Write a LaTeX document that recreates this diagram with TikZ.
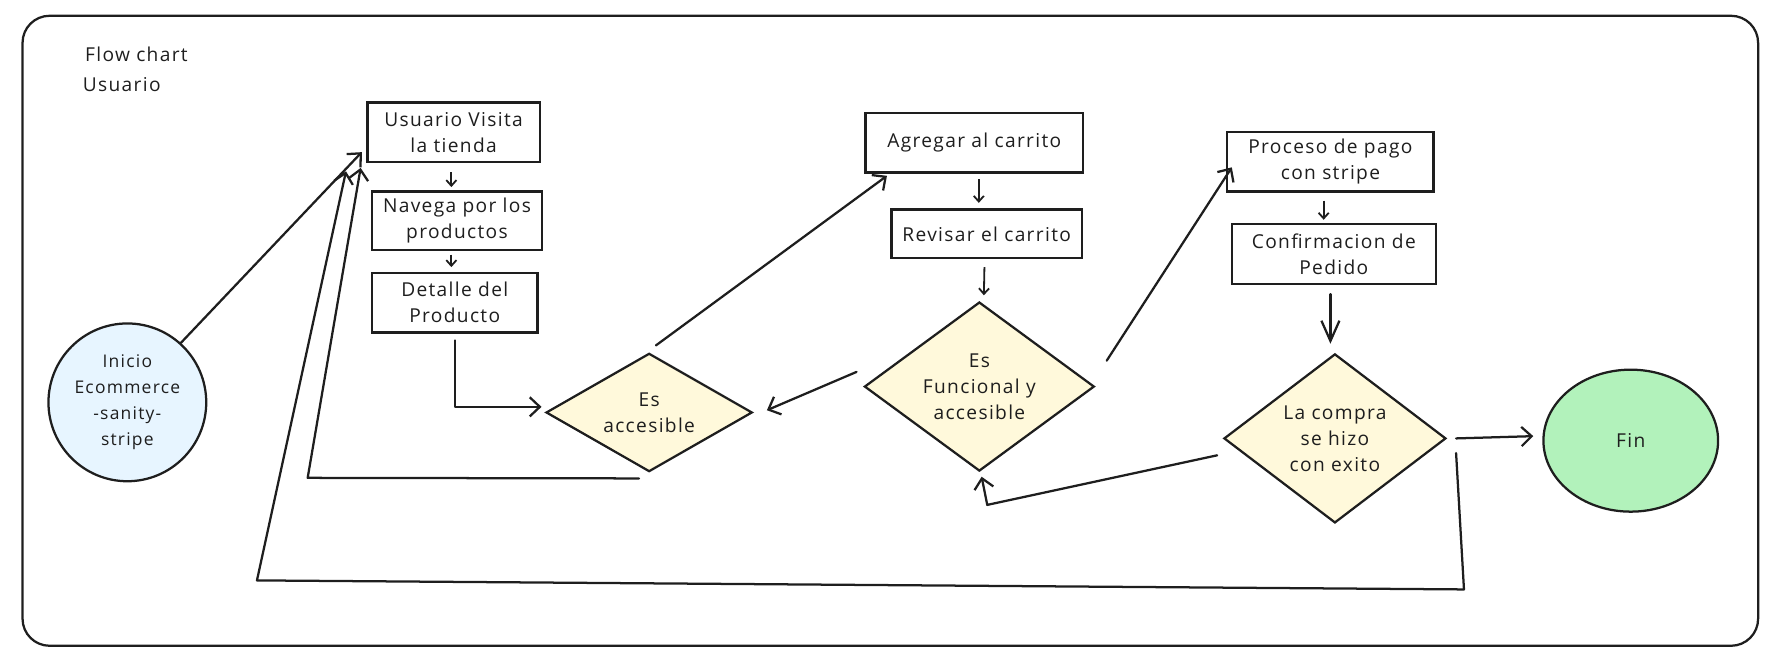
\documentclass[tikz,border=0pt]{standalone}
\usepackage{fontspec}
\setmainfont{Open Sans}[LetterSpace=7]
\usetikzlibrary{shapes.geometric,arrows.meta,calc}
\definecolor{ink}{HTML}{1E1E1E}
\definecolor{yel}{HTML}{FFF9DB}
\definecolor{blu}{HTML}{E7F5FF}
\definecolor{grn}{HTML}{B2F2BB}
\tikzset{
  stepbox/.style={draw=ink,line width=2pt,fill=white,inner sep=0pt,align=center,font=\fontsize{17}{23}\selectfont,text=ink},
  dia/.style={diamond,draw=ink,line width=2pt,fill=yel,inner sep=0pt},
  dtxt/.style={align=center,font=\fontsize{17}{23}\selectfont,text=ink},
  arr/.style={draw=ink,line width=2pt,-{Straight Barb[length=9pt,width=17pt,line width=2pt]},line cap=round,line join=round},
  bigarr/.style={draw=ink,line width=2pt,-{Straight Barb[length=18pt,width=16pt,line width=2pt]},line cap=round,line join=round},
  sarr/.style={draw=ink,line width=1.6pt,-{Straight Barb[length=5pt,width=9pt,line width=1.6pt]}},
}
\begin{document}
\begin{tikzpicture}[x=1pt,y=-1pt]
\useasboundingbox (0,0) rectangle (1567,584);
\node[draw=ink,line width=2pt,rounded corners=24pt,minimum width=1540pt,minimum height=559pt,inner sep=0pt] (frame) at (790,293.5) {};
\node[anchor=west,font=\fontsize{17}{18}\selectfont,text=ink] (t1) at (72,48) {Flow chart};
\node[anchor=west,font=\fontsize{17}{18}\selectfont,text=ink] (t2) at (70,75) {Usuario};

\node[circle,draw=ink,line width=2pt,fill=blu,minimum size=140pt,inner sep=0pt,align=center,font=\fontsize{15.5}{23}\selectfont,text=ink] (ini) at (113,357) {Inicio\\Ecommerce\\-sanity-\\stripe};

\node[stepbox,minimum width=153pt,minimum height=53pt] (b1) at (402.5,117.5) {Usuario Visita\\la tienda};
\node[stepbox,minimum width=151pt,minimum height=52pt] (b2) at (405.5,196) {Navega por los\\productos};
\node[stepbox,minimum width=147pt,minimum height=53pt] (b3) at (403.5,268.5) {Detalle del\\Producto};

\node[dia,minimum width=183pt,minimum height=105pt] (d1) at (576,366) {};
\node[dtxt] at (d1) {Es\\accesible};

\node[stepbox,minimum width=193pt,minimum height=53pt] (b4) at (864.5,126.5) {Agregar al carrito};
\node[stepbox,minimum width=169pt,minimum height=43pt] (b5) at (875.5,207.5) {Revisar el carrito};

\node[dia,minimum width=204pt,minimum height=150pt] (d2) at (869,343) {};
\node[dtxt] at (d2) {Es\\Funcional y\\accesible};

\node[stepbox,minimum width=183pt,minimum height=53pt] (b6) at (1180.5,143.5) {Proceso de pago\\con stripe};
\node[stepbox,minimum width=181pt,minimum height=53pt] (b7) at (1183.5,225.5) {Confirmacion de\\Pedido};

\node[dia,minimum width=197pt,minimum height=150pt] (d3) at (1184.5,389) {};
\node[dtxt] at (d3) {La compra\\se hizo\\con exito};

\node[ellipse,draw=ink,line width=2pt,fill=grn,minimum width=155pt,minimum height=126pt,inner sep=0pt,font=\fontsize{17}{18}\selectfont,text=ink] (fin) at (1447,391) {Fin};

\coordinate (c1) at (273,424);
\coordinate (c2) at (876,448);
\coordinate (c3) at (1299,523);
\coordinate (c4) at (228,515);

% vertical small arrows
\draw[sarr] ($(b1.south)+(-2,8)$) -- ($(b2.north)+(-5,-3)$);
\draw[sarr] ($(b2.south)+(-5,3)$) -- ($(b3.north)+(-3,-4)$);
\draw[sarr] ($(b4.south)+(4,5)$) -- ($(b5.north)+(-7,-5)$);
\draw[sarr] ($(b5.south)+(-2,7)$) -- ($(d2.north)+(4,-5)$);
\draw[sarr] ($(b6.south)+(-6,7)$) -- ($(b7.north)+(-9,-3)$);
\draw[bigarr] ($(b7.south)+(-3,8)$) -- ($(d3.north)+(-4,-8)$);

% connectors
\draw[arr] (ini.48) -- ($(b1.south west)+(-4,-10)$);
\draw[arr] ($(b3.south)+(0,6)$) |- ($(d1.west)+(-3,-5)$);
\draw[arr] ($(d1.north)+(6,-6)$) -- ($(b4.south west)+(20,2)$);
\draw[arr] ($(d1.south)+(-9,5)$) -- (c1) -- ($(b1.south west)+(-5,4)$);
\draw[arr] ($(d2.west)+(-6,-13)$) -- ($(d1.east)+(12,-2)$);
\draw[arr] ($(d2.east)+(10,-23)$) -- ($(b6.west)+(5,5)$);
\draw[arr] ($(d3.west)+(-5,15)$) -- (c2) -- ($(d2.south)+(2,4)$);
\draw[arr] ($(d3.east)+(8,0)$) -- ($(fin.west)+(-8,-4)$);
\draw[arr] ($(d3.east)+(8,13)$) -- (c3) -- (c4) -- ($(b1.south west)+(-18,7)$);
\end{tikzpicture}
\end{document}
